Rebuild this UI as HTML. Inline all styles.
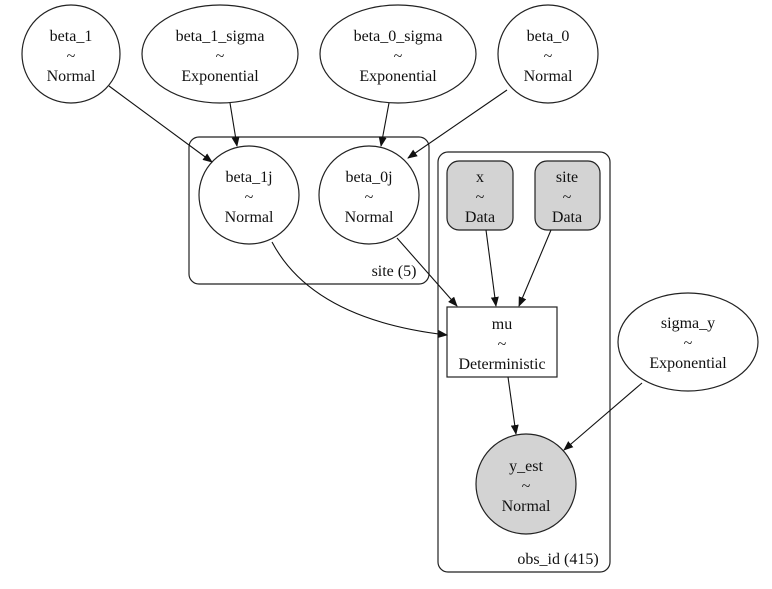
<!DOCTYPE html>
<html><head><meta charset="utf-8"><style>
html,body{margin:0;padding:0;background:#fff;}
svg{display:block;}
text{font-family:"Liberation Serif",serif;font-size:16px;fill:#111;text-anchor:middle;}
</style></head><body>
<svg width="772" height="589" viewBox="0 0 772 589" xmlns="http://www.w3.org/2000/svg">
<defs><marker id="a" markerWidth="10" markerHeight="8" refX="9" refY="4" orient="auto" markerUnits="userSpaceOnUse"><path d="M0,0 L10,4 L0,8 z" fill="#111"/></marker></defs>
<g fill="none" stroke="#222" stroke-width="1.2">
<rect x="189" y="137" width="240" height="147" rx="10"/>
<rect x="438" y="152" width="172" height="420" rx="10"/>
<ellipse cx="71" cy="54" rx="49" ry="49"/>
<ellipse cx="220" cy="54" rx="78" ry="49"/>
<ellipse cx="398" cy="54" rx="78" ry="49"/>
<ellipse cx="548" cy="54" rx="50" ry="49"/>
<ellipse cx="249" cy="195" rx="50" ry="49"/>
<ellipse cx="369" cy="195" rx="50" ry="49"/>
<ellipse cx="688" cy="342" rx="70" ry="49"/>
<rect x="447" y="307" width="110" height="70"/>
<rect x="447" y="161" width="66" height="69" rx="12" fill="#d3d3d3"/>
<rect x="535" y="161" width="65" height="69" rx="12" fill="#d3d3d3"/>
<circle cx="526" cy="484" r="50" fill="#d3d3d3"/>
</g>
<g fill="none" stroke="#111" stroke-width="1.1" marker-end="url(#a)">
<line x1="109" y1="86" x2="212" y2="162"/>
<line x1="230" y1="103" x2="237" y2="146"/>
<line x1="389" y1="103" x2="381" y2="146"/>
<line x1="507" y1="90" x2="408" y2="158"/>
<path d="M272 242 C300 295,360 325,447 335"/>
<line x1="397" y1="238" x2="457" y2="306"/>
<line x1="486" y1="230" x2="496" y2="306"/>
<line x1="551" y1="230" x2="519" y2="306"/>
<line x1="508" y1="377" x2="516" y2="434"/>
<line x1="642" y1="383" x2="564" y2="450"/>
</g>
<text x="71" y="41">beta_1</text><text x="71" y="61">~</text><text x="71" y="81">Normal</text>
<text x="220" y="41">beta_1_sigma</text><text x="220" y="61">~</text><text x="220" y="81">Exponential</text>
<text x="398" y="41">beta_0_sigma</text><text x="398" y="61">~</text><text x="398" y="81">Exponential</text>
<text x="548" y="41">beta_0</text><text x="548" y="61">~</text><text x="548" y="81">Normal</text>
<text x="249" y="182">beta_1j</text><text x="249" y="202">~</text><text x="249" y="222">Normal</text>
<text x="369" y="182">beta_0j</text><text x="369" y="202">~</text><text x="369" y="222">Normal</text>
<text x="480" y="182">x</text><text x="480" y="202">~</text><text x="480" y="222">Data</text>
<text x="567" y="182">site</text><text x="567" y="202">~</text><text x="567" y="222">Data</text>
<text x="502" y="329">mu</text><text x="502" y="349">~</text><text x="502" y="369">Deterministic</text>
<text x="688" y="328">sigma_y</text><text x="688" y="348">~</text><text x="688" y="368">Exponential</text>
<text x="526" y="471">y_est</text><text x="526" y="491">~</text><text x="526" y="511">Normal</text>
<text x="394" y="276">site (5)</text>
<text x="558" y="564">obs_id (415)</text>
</svg>
</body></html>
